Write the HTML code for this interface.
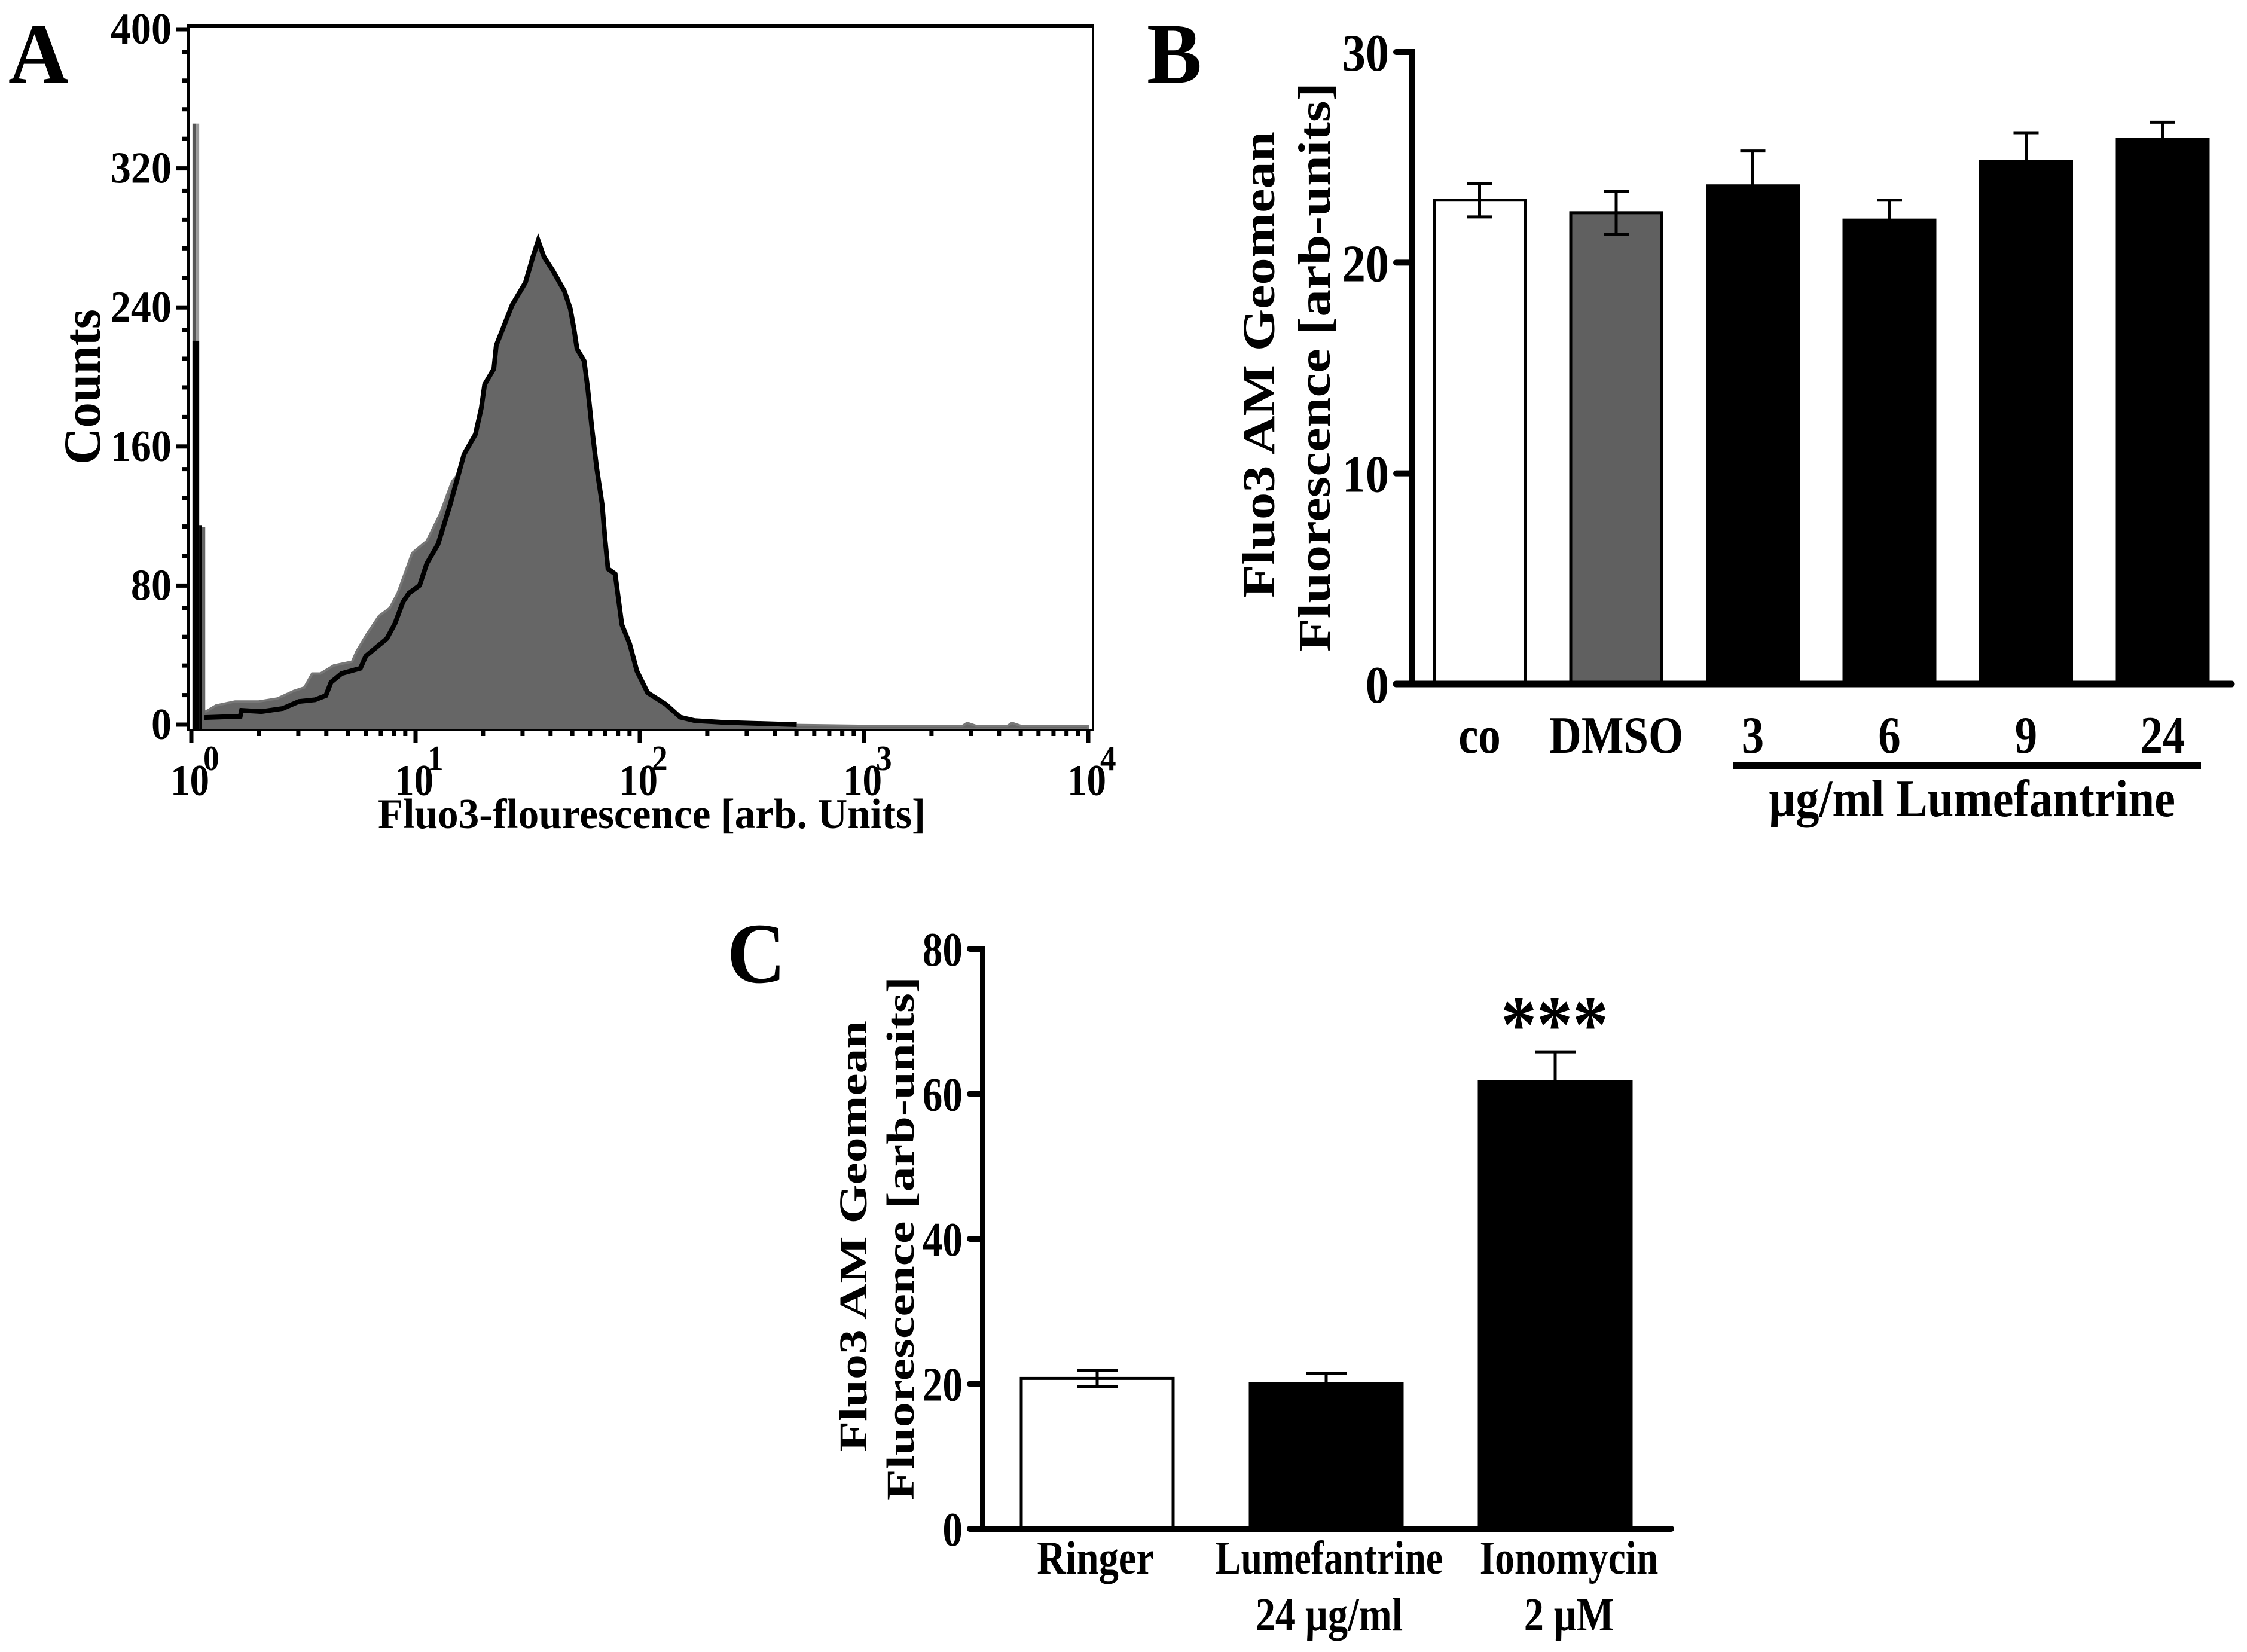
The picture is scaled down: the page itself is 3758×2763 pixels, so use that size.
<!DOCTYPE html>
<html lang="en">
<head>
<meta charset="utf-8">
<title>Fluo3 fluorescence figure</title>
<style>
html,body{margin:0;padding:0;background:#fff;}
svg{display:block;}
text{font-family:"Liberation Serif","Noto Serif CJK SC",serif;font-weight:bold;fill:#000;}
</style>
</head>
<body>
<svg id="figure" xmlns="http://www.w3.org/2000/svg" width="3758" height="2763" viewBox="0 0 3758 2763">
  <rect x="0" y="0" width="3758" height="2763" fill="#fff"/>
  <text x="14" y="138" font-size="144" textLength="101" lengthAdjust="spacingAndGlyphs">A</text>
  <text x="1918" y="138" font-size="144" textLength="92" lengthAdjust="spacingAndGlyphs">B</text>
  <text x="1216" y="1643" font-size="144" textLength="98" lengthAdjust="spacingAndGlyphs">C</text>

  <g id="panel-a">
    <text x="632" y="1385" font-size="71" textLength="916" lengthAdjust="spacingAndGlyphs">Fluo3-flourescence [arb. Units]</text>
    <text transform="translate(167 777) rotate(-90)" x="0" y="0" font-size="88" textLength="260" lengthAdjust="spacingAndGlyphs">Counts</text>
  </g>
  <g id="panel-b">
    <text transform="translate(2131 1000) rotate(-90)" x="0" y="0" font-size="76" textLength="780" lengthAdjust="spacingAndGlyphs">Fluo3 AM Geomean</text>
    <text transform="translate(2224 1090) rotate(-90)" x="0" y="0" font-size="76" textLength="952" lengthAdjust="spacingAndGlyphs">Fluorescence [arb-units]</text>
    <rect x="2899" y="1275" width="782" height="11" fill="#000"/>
    <text x="2958" y="1365" font-size="88" textLength="680" lengthAdjust="spacingAndGlyphs">µg/ml Lumefantrine</text>
  </g>
  <g id="panel-c">
    <text transform="translate(1449 2428) rotate(-90)" x="0" y="0" font-size="66" textLength="721" lengthAdjust="spacingAndGlyphs">Fluo3 AM Geomean</text>
    <text transform="translate(1528 2509) rotate(-90)" x="0" y="0" font-size="66" textLength="876" lengthAdjust="spacingAndGlyphs">Fluorescence [arb-units]</text>
    <text x="2510" y="1759" font-size="136" textLength="180" lengthAdjust="spacingAndGlyphs">***</text>
  </g>
</svg>
<script>
// Panel A data
const histYTickLabels = ['400','320','240','160','80','0'];
const histYTickValues = [400,320,240,160,80,0];
const histYMinorSteps = [17,34,50.5,67];
const histXDecades = [0,1,2,3,4];
const histXMinorMultipliers = [2,3,4,5,6,7,8,9];
const blackDecades = [.057,.218,.224,.313,.408,.48,.552,.6,.623,.67,.754,.778,.825,.872,.908,.944,.97,1.018,1.05,1.10,1.155,1.216,1.267,1.293,1.308,1.349,1.36,1.4,1.43,1.49,1.523,1.547,1.573,1.613,1.664,1.69,1.707,1.72,1.752,1.768,1.787,1.808,1.832,1.845,1.858,1.89,1.92,1.955,1.987,2.035,2.116,2.18,2.245,2.375,2.7];
const blackCounts = [5.8,6.5,9.9,9.2,11,15,16,18.4,26,31,34,41,46,51,59.6,72,77,81.5,94,105,128,156.5,168,183,196.5,205.5,219,232,242,255,269.5,279,269.5,261.6,250,240,228,217,210,194,171,148.6,128,108,91,88,59,48,32.5,20,13.4,6,4,3,1.7];
const grayDecades = [.048,.11,.195,.30,.384,.456,.504,.539,.576,.635,.717,.736,.784,.837,.885,.92,.985,1.05,1.11,1.163,1.237,1.262,1.299,1.312,1.333,1.36,1.395,1.41,1.44,1.486,1.5,1.533,1.563,1.64,1.65,1.664,1.685,1.707,1.725,1.74,1.757,1.776,1.797,1.83,1.85,1.88,1.91,1.95,1.98,2.03,2.11,2.18,2.25,2.4,2.7,3.0,3.44,3.46,3.5,3.64,3.66,3.7,4];
const grayCounts = [8,12.7,15,15,16.7,21,23,31,31,35.6,37.8,43.5,53.8,64,68.5,77,100,107,122.6,141,153,156.5,159,183,194,200,201,224,232,234,244.5,253.4,251,246.6,240,228,217,205.5,194,183,162,143,128,108,88,80,55,43,28,16,10,4,3,2,1.5,1,1,2.7,1,1,2.7,1,1];
const graySpikeBinEdges = [.005,.022,.035];
const graySpikeCounts = [346,346];
const grayShoulderBinEdges = [.048,.062];
const grayShoulderCounts = [115];
const blackSpikeBinEdges = [.005,.035,.048];
const blackSpikeCounts = [221.6,116];

// Panel B data
const barBCategories = ['co','DMSO','3','6','9','24'];
const barBGroups = ['control','vehicle','drug','drug','drug','drug'];
const barBMeans = [22.97,22.37,23.65,22.02,24.82,25.85];
const barBErrors = [0.8,1.03,1.65,0.95,1.35,0.82];
const barBYTicks = [0,10,20,30];

// Panel C data
const barCCategories = ['Ringer','Lumefantrine','Ionomycin'];
const barCSubLabels = ['','24 µg/ml','2 µM'];
const barCGroups = ['control','drug','drug'];
const barCMeans = [20.75,20.05,61.7];
const barCErrors = [1.1,1.4,4.1];
const barCYTicks = [0,20,40,60,80];

const NS = 'http://www.w3.org/2000/svg';
function mk(parent, tag, attrs) {
  const el = document.createElementNS(NS, tag);
  for (const k in attrs) el.setAttribute(k, attrs[k]);
  parent.appendChild(el);
  return el;
}
function mkText(parent, str, x, y, size, anchor, squeeze) {
  const el = mk(parent, 'text', {x: x, y: y, 'font-size': size, 'text-anchor': anchor});
  el.textContent = str;
  const w = el.getComputedTextLength();
  el.setAttribute('textLength', (w * squeeze).toFixed(1));
  el.setAttribute('lengthAdjust', 'spacingAndGlyphs');
  return el;
}

/* ---------- Panel A ---------- */
(function () {
  const g = document.getElementById('panel-a');
  const xS = d => 320 + 375 * d;
  const yAxis = c => 1212 - c * (1212 - 49) / 400;
  const yHist = c => 1217 - c * 2.92;
  const floorY = 1219;

  const fillPts = [[xS(grayDecades[0]), floorY]]
    .concat(grayDecades.map((d, i) => [xS(d), yHist(grayCounts[i])]))
    .concat([[xS(grayDecades[grayDecades.length - 1]), floorY]]);
  const fill = mk(g, 'polygon', {points: fillPts.map(p => p.map(v => v.toFixed(1)).join(',')).join(' '), fill: '#666', stroke: '#777', 'stroke-width': 4, 'stroke-linejoin': 'miter'});
  
  

  const underPts = [[xS(blackDecades[0]), floorY]]
    .concat(blackDecades.map((d, i) => [xS(d), yHist(blackCounts[i])]))
    .concat([[xS(blackDecades[blackDecades.length - 1]), floorY]]);
  const underFill = mk(g, 'polygon', {points: underPts.map(p => p.map(v => v.toFixed(1)).join(',')).join(' '), fill: '#666'});
  
  

  graySpikeCounts.forEach((c, i) => {
    const r = mk(g, 'rect', {x: xS(graySpikeBinEdges[i]), y: yHist(c), width: xS(graySpikeBinEdges[i + 1]) - xS(graySpikeBinEdges[i]), height: floorY - yHist(c), fill: i === 0 ? '#555' : '#999'});
    
    
  });
  grayShoulderCounts.forEach((c, i) => {
    const r = mk(g, 'rect', {x: xS(grayShoulderBinEdges[i]), y: yHist(c), width: xS(grayShoulderBinEdges[i + 1]) - xS(grayShoulderBinEdges[i]), height: floorY - yHist(c), fill: '#666'});
    
    
  });

  const linePts = blackDecades.map((d, i) => xS(d).toFixed(1) + ',' + yHist(blackCounts[i]).toFixed(1)).join(' ');
  const line = mk(g, 'polyline', {points: linePts, fill: 'none', stroke: '#000', 'stroke-width': 8, 'stroke-linejoin': 'miter', 'stroke-miterlimit': 6});
  
  

  blackSpikeCounts.forEach((c, i) => {
    const r = mk(g, 'rect', {x: xS(blackSpikeBinEdges[i]), y: yHist(c), width: xS(blackSpikeBinEdges[i + 1]) - xS(blackSpikeBinEdges[i]), height: floorY - yHist(c), fill: '#000'});
    
    
  });

  const frameSides = [
    {name: 'plot-frame-top', x: 312, y: 40, w: 1517, h: 7},
    {name: 'plot-frame-left', x: 312, y: 40, w: 5, h: 1182},
    {name: 'plot-frame-right', x: 1826, y: 40, w: 3, h: 1182},
    {name: 'plot-frame-bottom', x: 312, y: 1219, w: 1517, h: 3}
  ];
  frameSides.forEach(s => {
    const r = mk(g, 'rect', {x: s.x, y: s.y, width: s.w, height: s.h, fill: '#000'});
    
    
  });

  histYTickValues.forEach((v, i) => {
    const t = mk(g, 'rect', {x: 294, y: yAxis(v) - 3.5, width: 20, height: 7, fill: '#000'});
    
    
    const l = mkText(g, histYTickLabels[i], 287, yAxis(v) + 24, 74, 'end', 0.92);
    
    
    if (v < 400) histYMinorSteps.forEach(s => {
      const m = mk(g, 'rect', {x: 304, y: yAxis(v + s) - 3.5, width: 10, height: 7, fill: '#000'});
      
      
    });
  });

  histXDecades.forEach(d => {
    const t = mk(g, 'rect', {x: xS(d) - 3.5, y: 1222, width: 7, height: 21, fill: '#000'});
    
    
    const base = mkText(g, '10', xS(d) - 35, 1330, 74, 'start', 0.88);
    
    
    const sup = mkText(g, String(d), xS(d) + 20, 1288, 59, 'start', 0.9);
    
    
    if (d < 4) histXMinorMultipliers.forEach(m => {
      const tk = mk(g, 'rect', {x: xS(d + Math.log10(m)) - 3.5, y: 1222, width: 7, height: 9, fill: '#000'});
      
      
    });
  });
})();

/* ---------- Bar chart helper ---------- */
const groupFill = {control: '#fff', vehicle: '#606060', drug: '#000'};

/* ---------- Panel B ---------- */
(function () {
  const g = document.getElementById('panel-b');
  const y = v => 1144 - v * (1144 - 87) / 30;
  const xC = i => 2474.5 + i * 228.5;
  const barW = 152;

  barBMeans.forEach((v, i) => {
    const bar = mk(g, 'rect', {x: xC(i) - barW / 2, y: y(v), width: barW, height: y(0) - y(v), fill: groupFill[barBGroups[i]], stroke: '#000', 'stroke-width': 5});
    
    
    const stem = mk(g, 'line', {x1: xC(i), x2: xC(i), y1: y(v + barBErrors[i]), y2: y(v - barBErrors[i]), stroke: '#000', 'stroke-width': 5});
    
    
    [1, -1].forEach(sign => {
      const cap = mk(g, 'line', {x1: xC(i) - 21, x2: xC(i) + 21, y1: y(v + sign * barBErrors[i]), y2: y(v + sign * barBErrors[i]), stroke: '#000', 'stroke-width': 5});
      
      
    });
    const lab = mkText(g, barBCategories[i], xC(i), 1259, 88, 'middle', 0.85);
    
    
  });

  const yAx = mk(g, 'rect', {x: 2356, y: 82, width: 10, height: 1067, fill: '#000'});
  
  
  const xAx = mk(g, 'line', {x1: 2335, x2: 3732, y1: 1144, y2: 1144, stroke: '#000', 'stroke-width': 11, 'stroke-linecap': 'round'});
  
  

  barBYTicks.forEach(v => {
    const t = mk(g, 'line', {x1: 2335, x2: 2360, y1: y(v), y2: y(v), stroke: '#000', 'stroke-width': 10, 'stroke-linecap': 'round'});
    
    
    const l = mkText(g, String(v), 2323, y(v) + 31, 88, 'end', 0.89);
    
    
  });
})();

/* ---------- Panel C ---------- */
(function () {
  const g = document.getElementById('panel-c');
  const y = v => 2557 - v * (2557 - 1587) / 80;
  const xC = i => 1835 + i * 383;
  const barW = 254;
  const labelNudge = [-3, 5, 23];
  const labelSqueeze = [0.84, 0.81, 0.83];

  barCMeans.forEach((v, i) => {
    const bar = mk(g, 'rect', {x: xC(i) - barW / 2, y: y(v), width: barW, height: y(0) - y(v), fill: groupFill[barCGroups[i]], stroke: '#000', 'stroke-width': 5});
    
    
    const stem = mk(g, 'line', {x1: xC(i), x2: xC(i), y1: y(v + barCErrors[i]), y2: y(v - barCErrors[i]), stroke: '#000', 'stroke-width': 5});
    
    
    [1, -1].forEach(sign => {
      const cap = mk(g, 'line', {x1: xC(i) - 34, x2: xC(i) + 34, y1: y(v + sign * barCErrors[i]), y2: y(v + sign * barCErrors[i]), stroke: '#000', 'stroke-width': 5});
      
      
    });
    const lab = mkText(g, barCCategories[i], xC(i) + labelNudge[i], 2632, 79, 'middle', labelSqueeze[i]);
    
    
    if (barCSubLabels[i]) {
      const sub = mkText(g, barCSubLabels[i], xC(i) + labelNudge[i], 2727, 79, 'middle', 0.84);
      
      
    }
  });

  const yAx = mk(g, 'rect', {x: 1639, y: 1582, width: 9, height: 980, fill: '#000'});
  
  
  const xAx = mk(g, 'line', {x1: 1622, x2: 2795, y1: 2557, y2: 2557, stroke: '#000', 'stroke-width': 10, 'stroke-linecap': 'round'});
  
  

  barCYTicks.forEach(v => {
    const t = mk(g, 'line', {x1: 1622, x2: 1642, y1: y(v), y2: y(v), stroke: '#000', 'stroke-width': 10, 'stroke-linecap': 'round'});
    
    
    const l = mkText(g, String(v), 1610, y(v) + 28, 80, 'end', 0.84);
    
    
  });
})();
</script>
</body>
</html>
